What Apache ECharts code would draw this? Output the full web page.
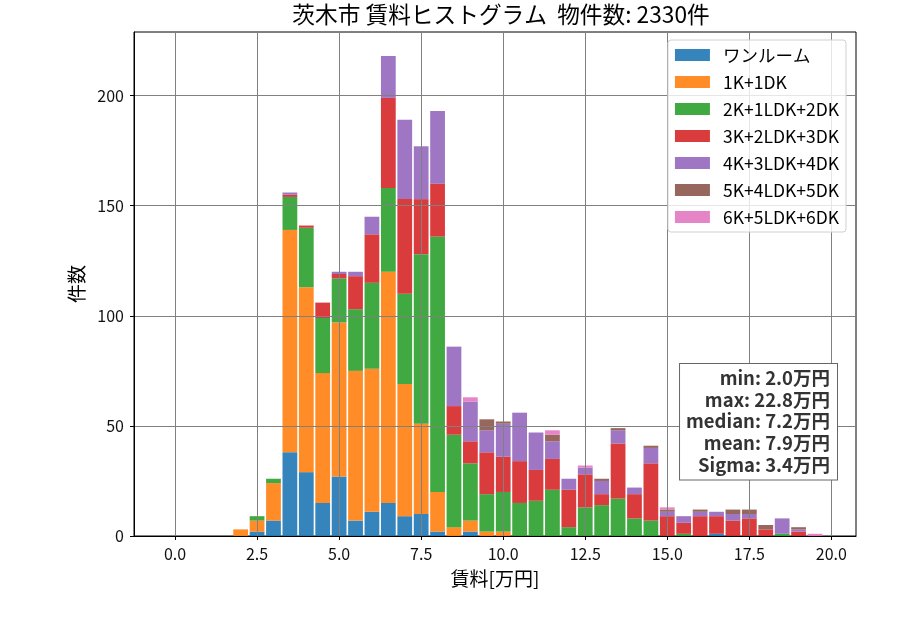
<!DOCTYPE html>
<html>
<head>
<meta charset="utf-8">
<script src="https://cdn.jsdelivr.net/npm/echarts@6/dist/echarts.min.js"></script>
<style>
  html, body { margin: 0; padding: 0; background: #fff; }
  #chart { width: 900px; height: 630px; }
</style>
</head>
<body>
<div id="chart"></div>
<script>
// bin slots across the whole x range (width 0.5, centred), and the bins that hold data
var binSlots = [-1.0, -0.5, 0.0, 0.5, 1.0, 1.5, 2.0, 2.5, 3.0, 3.5, 4.0, 4.5, 5.0, 5.5, 6.0, 6.5, 7.0, 7.5,
                8.0, 8.5, 9.0, 9.5, 10.0, 10.5, 11.0, 11.5, 12.0, 12.5, 13.0, 13.5, 14.0, 14.5, 15.0, 15.5,
                16.0, 16.5, 17.0, 17.5, 18.0, 18.5, 19.0, 19.5, 20.0, 20.5];
var rentBins = [2.0, 2.5, 3.0, 3.5, 4.0, 4.5, 5.0, 5.5, 6.0, 6.5, 7.0, 7.5, 8.0, 8.5, 9.0, 9.5,
                10.0, 10.5, 11.0, 11.5, 12.0, 12.5, 13.0, 13.5, 14.0, 14.5, 15.0, 15.5, 16.0, 16.5,
                17.0, 17.5, 18.0, 18.5, 19.0, 19.5];

var layoutNames = ['ワンルーム', '1K+1DK', '2K+1LDK+2DK', '3K+2LDK+3DK', '4K+3LDK+4DK', '5K+4LDK+5DK', '6K+5LDK+6DK'];

var oneRoom = [0, 2, 7, 38, 29, 15, 27, 7, 11, 15, 9, 10, 2, 0, 2, 0, 0, 0, 0, 0, 0, 0, 0, 0, 0, 0, 0, 0, 0, 1, 0, 0, 0, 0, 0, 0];
var oneK    = [3, 5, 17, 101, 84, 59, 70, 68, 65, 105, 60, 41, 18, 4, 5, 2, 2, 0, 0, 0, 0, 0, 0, 0, 0, 0, 0, 0, 0, 0, 0, 0, 0, 0, 0, 0];
var twoK    = [0, 2, 2, 15, 27, 25, 20, 28, 39, 38, 41, 77, 116, 42, 26, 17, 18, 15, 16, 21, 4, 13, 14, 17, 8, 7, 0, 1, 0, 0, 0, 0, 0, 1, 0, 0];
var threeK  = [0, 0, 0, 1, 1, 7, 2, 15, 22, 41, 43, 25, 24, 13, 10, 19, 16, 19, 14, 14, 17, 15, 5, 25, 11, 26, 9, 5, 9, 8, 7, 8, 3, 0, 2, 0];
var fourK   = [0, 0, 0, 1, 0, 0, 1, 2, 8, 19, 36, 24, 33, 27, 18, 10, 15, 22, 17, 8, 5, 3, 6, 6, 3, 7, 2, 3, 2, 2, 3, 2, 0, 7, 1, 0];
var fiveK   = [0, 0, 0, 0, 0, 0, 0, 0, 0, 0, 0, 0, 0, 0, 0, 5, 1, 0, 0, 3, 0, 0, 1, 1, 0, 1, 1, 0, 1, 0, 2, 2, 2, 0, 1, 0];
var sixK    = [0, 0, 0, 0, 0, 0, 0, 0, 0, 0, 0, 0, 0, 0, 2, 0, 0, 0, 0, 2, 0, 1, 0, 0, 0, 0, 1, 0, 0, 0, 0, 0, 0, 0, 0, 1];

var xTicks = [0, 2.5, 5, 7.5, 10, 12.5, 15, 17.5, 20];
var yTicks = [0, 50, 100, 150, 200];

var statLines = ['min: 2.0万円', 'max: 22.8万円', 'median: 7.2万円', 'mean: 7.9万円', 'Sigma: 3.4万円'];

var colors = ['rgba(31,119,180,0.9)', 'rgba(255,127,14,0.9)', 'rgba(44,160,44,0.9)', 'rgba(214,39,40,0.9)',
              'rgba(148,103,189,0.9)', 'rgba(140,86,75,0.9)', 'rgba(227,119,194,0.9)'];

var FONT = '"Noto Sans CJK JP", "Noto Sans", sans-serif';

function key(v) { return v.toFixed(1); }

var counts = [oneRoom, oneK, twoK, threeK, fourK, fiveK, sixK];
var series = counts.map(function (vals, k) {
    return {
        name: layoutNames[k],
        type: 'bar',
        stack: 'rent',
        xAxisIndex: 0,
        barWidth: '90%',
        itemStyle: { color: colors[k] },
        data: rentBins.map(function (b, i) { return [key(b), vals[i]]; })
    };
});

var chart = echarts.init(document.getElementById('chart'));
chart.setOption({
    animation: false,
    title: {
        text: '茨木市 賃料ヒストグラム  物件数: 2330件',
        left: 496,
        top: -2,
        textAlign: 'center',
        textStyle: { fontFamily: FONT, fontSize: 22.7, fontWeight: 'normal', color: '#000' }
    },
    grid: {
        left: 134, right: 44, top: 32, bottom: 94,
        show: true, borderColor: '#000', borderWidth: 1
    },
    legend: {
        orient: 'vertical',
        right: 54,
        top: 40,
        icon: 'rect',
        itemWidth: 35,
        itemHeight: 12,
        itemGap: 7,
        padding: [5, 7, 5, 7],
        backgroundColor: 'rgba(255,255,255,0.8)',
        borderColor: '#d0d0d0',
        borderWidth: 1,
        borderRadius: 3,
        textStyle: { fontFamily: FONT, fontSize: 17.5, color: '#000', lineHeight: 20, padding: [0, 0, 0, 8] },
        data: layoutNames
    },
    xAxis: [{
        // bins, hidden
        type: 'category',
        data: binSlots.map(key),
        boundaryGap: true,
        position: 'bottom',
        show: false
    }, {
        type: 'value',
        min: -1.25,
        max: 20.75,
        position: 'bottom',
        z: 3,
        name: '賃料[万円]',
        nameLocation: 'middle',
        nameGap: 33,
        nameTextStyle: { fontFamily: FONT, fontSize: 19, color: '#000' },
        axisLine: { onZero: false, lineStyle: { color: '#000', width: 1 } },
        axisTick: { show: true, length: 4, lineStyle: { color: '#000' }, customValues: xTicks },
        axisLabel: {
            customValues: xTicks, margin: 10, fontFamily: FONT, fontSize: 16, color: '#111',
            formatter: function (v) { return v.toFixed(1); }
        },
        splitLine: { show: true, lineStyle: { color: '#808080', width: 1 } }
    }],
    yAxis: {
        type: 'value',
        min: 0,
        max: 228.9,
        z: 3,
        name: '件数',
        nameLocation: 'middle',
        nameGap: 47,
        nameTextStyle: { fontFamily: FONT, fontSize: 19, color: '#000' },
        axisLine: { show: true, onZero: false, lineStyle: { color: '#000', width: 1 } },
        axisTick: { show: true, length: 4, lineStyle: { color: '#000' }, customValues: yTicks },
        axisLabel: { customValues: yTicks, margin: 10, fontFamily: FONT, fontSize: 16, color: '#111' },
        splitLine: { show: true, lineStyle: { color: '#808080', width: 1 } }
    },
    graphic: [{
        type: 'text',
        right: 62,
        top: 363,
        z: 100,
        style: {
            text: statLines.map(function (s) { return '{r|' + s + '}'; }).join('\n'),
            rich: {
                r: { align: 'right', font: 'bold 18.5px ' + FONT, fill: '#333', lineHeight: 21.7 }
            },
            font: 'bold 18.5px ' + FONT,
            fill: '#333',
            backgroundColor: '#fff',
            borderColor: '#666',
            borderWidth: 1,
            padding: [3, 7, 4, 6]
        }
    }],
    series: series
});
</script>
</body>
</html>
